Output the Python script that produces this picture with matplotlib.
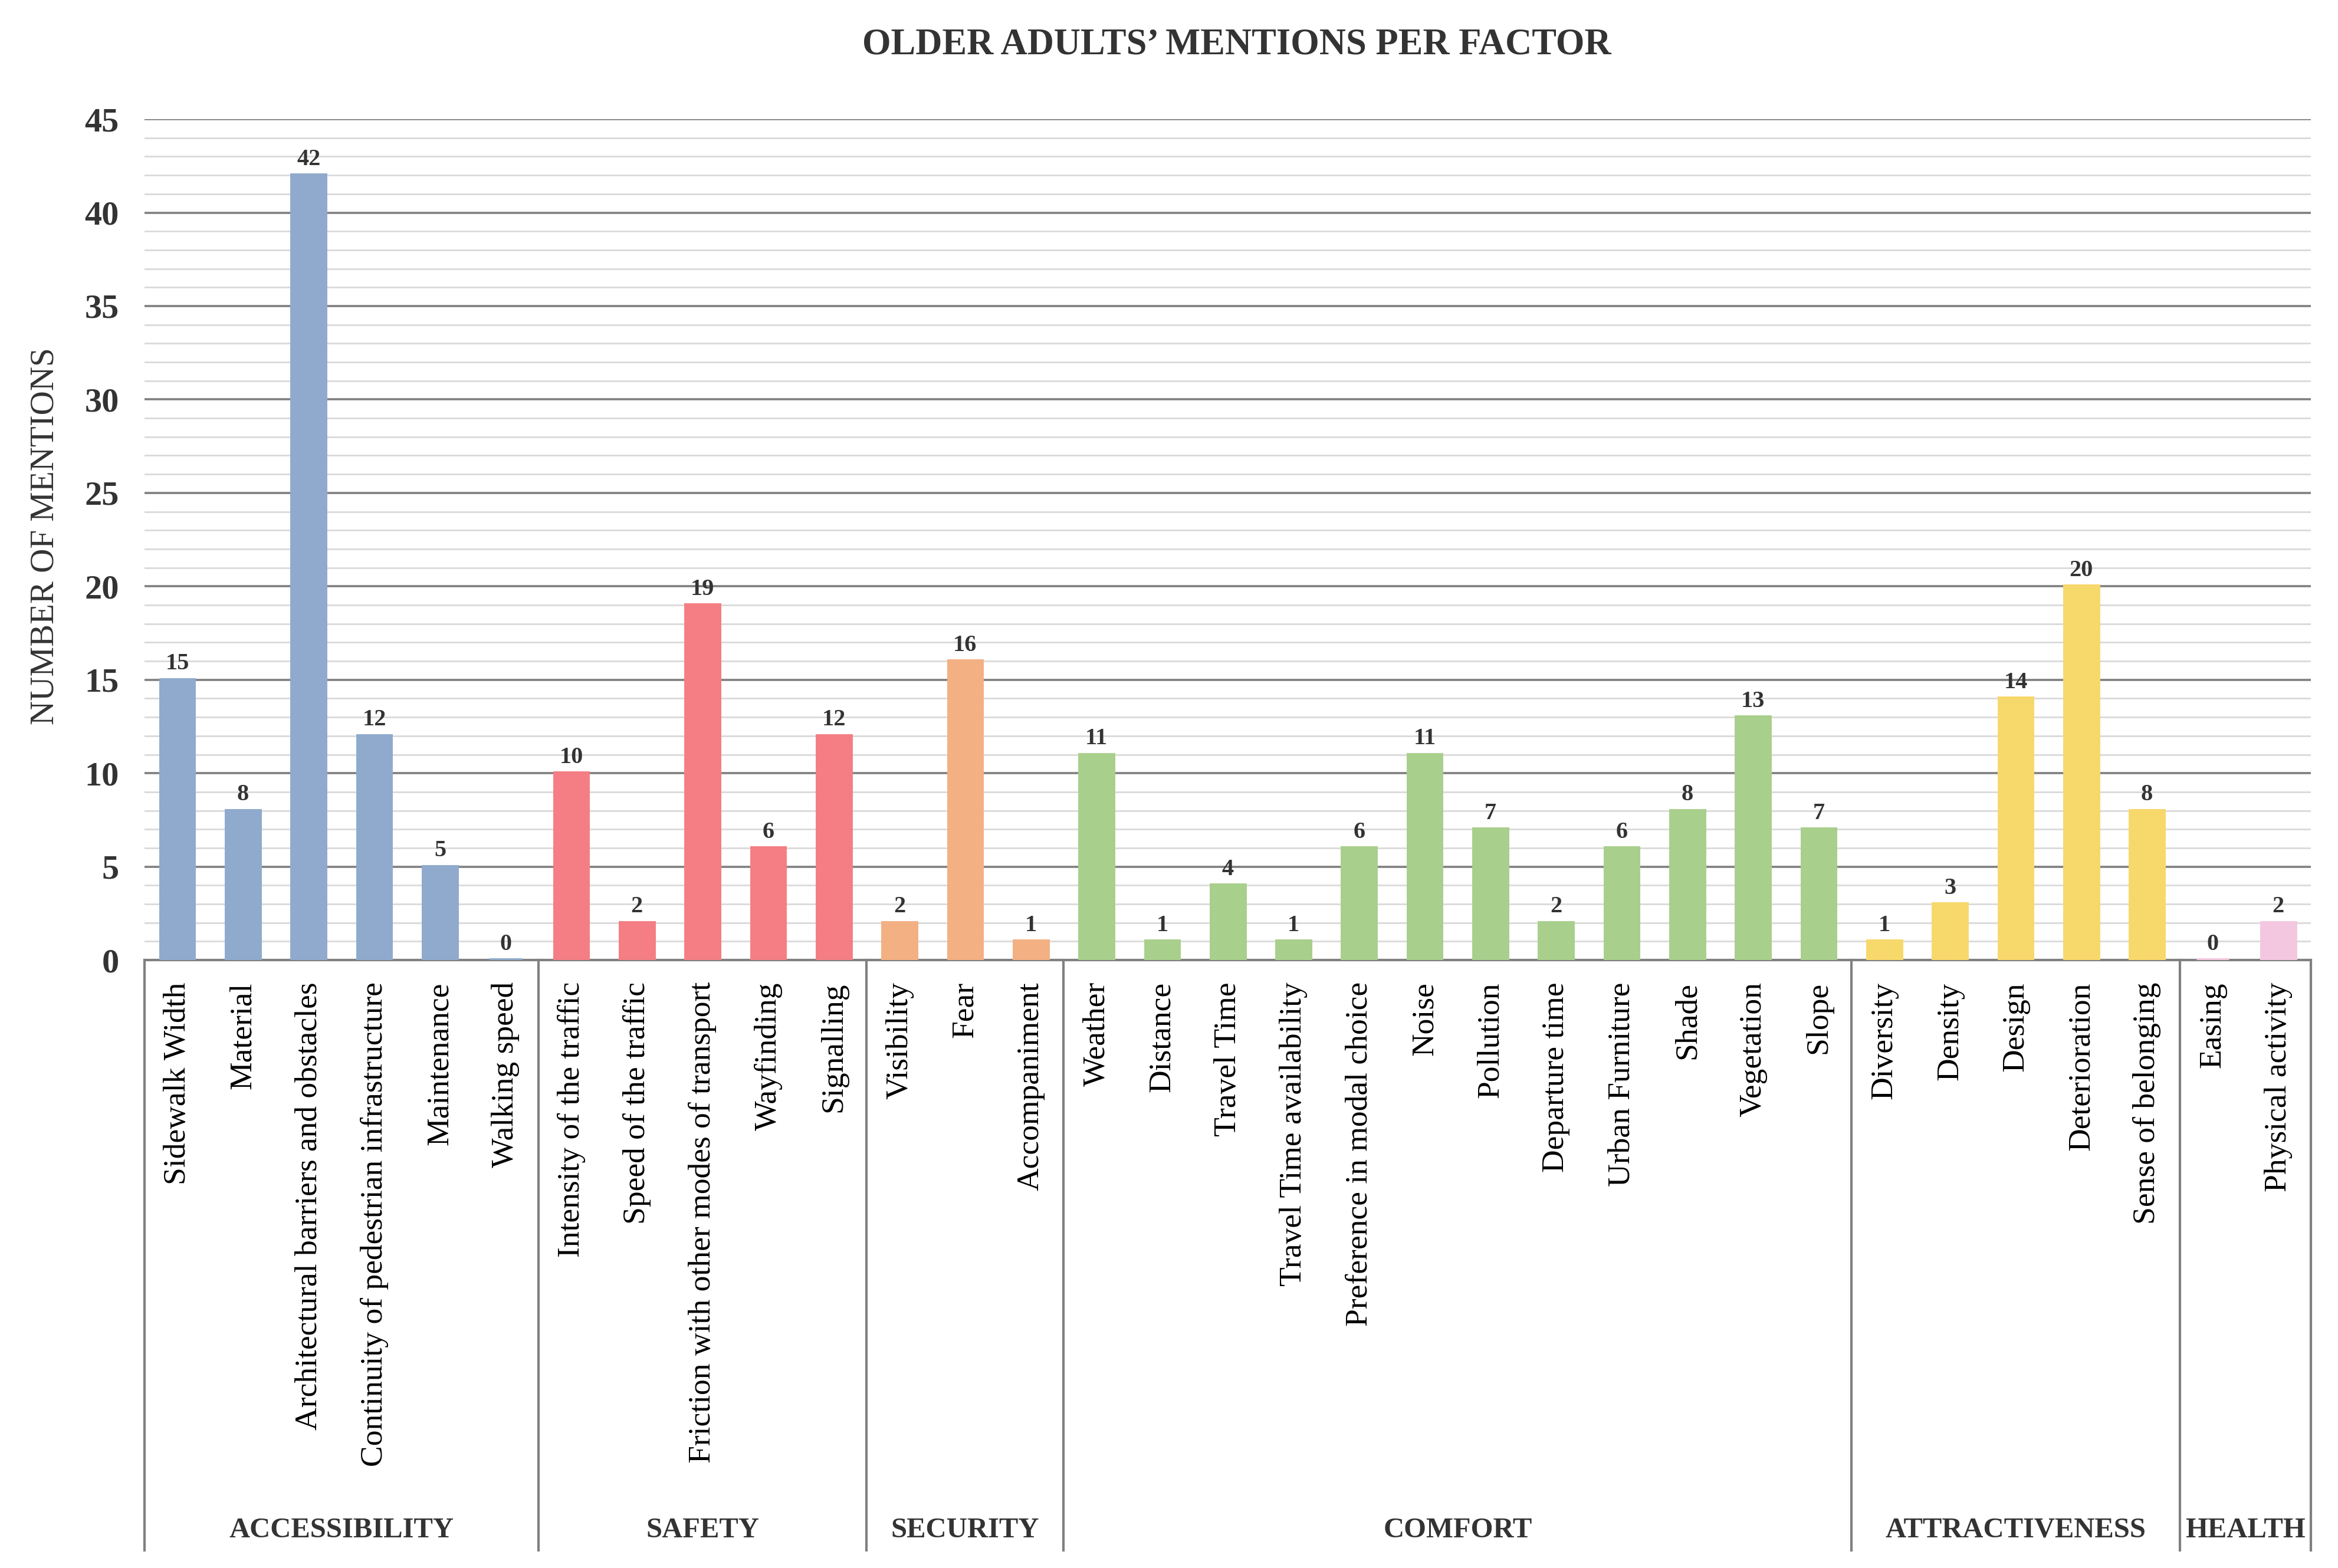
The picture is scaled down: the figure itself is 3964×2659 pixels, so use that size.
import matplotlib
matplotlib.use("Agg")
import matplotlib.pyplot as plt
from matplotlib.ticker import MultipleLocator
import matplotlib.transforms as mtransforms

# ---- data ----
groups = ["ACCESSIBILITY", "SAFETY", "SECURITY", "COMFORT", "ATTRACTIVENESS", "HEALTH"]
accessibility = ["Sidewalk Width", "Material", "Architectural barriers and obstacles",
                 "Continuity of pedestrian infrastructure", "Maintenance", "Walking speed"]
accessibility_vals = [15, 8, 42, 12, 5, 0]
safety = ["Intensity of the traffic", "Speed of the traffic",
          "Friction with other modes of transport", "Wayfinding", "Signalling"]
safety_vals = [10, 2, 19, 6, 12]
security = ["Visibility", "Fear", "Accompaniment"]
security_vals = [2, 16, 1]
comfort = ["Weather", "Distance", "Travel Time", "Travel Time availability",
           "Preference in modal choice", "Noise", "Pollution", "Departure time",
           "Urban Furniture", "Shade", "Vegetation", "Slope"]
comfort_vals = [11, 1, 4, 1, 6, 11, 7, 2, 6, 8, 13, 7]
attractiveness = ["Diversity", "Density", "Design", "Deterioration", "Sense of belonging"]
attractiveness_vals = [1, 3, 14, 20, 8]
health = ["Easing", "Physical activity"]
health_vals = [0, 2]
group_colors = ["#8FAACC", "#F47E84", "#F3B083", "#A9CF8C", "#F7D86A", "#F4C7E0"]

cat_lists = [accessibility, safety, security, comfort, attractiveness, health]
val_lists = [accessibility_vals, safety_vals, security_vals, comfort_vals,
             attractiveness_vals, health_vals]

serif = ["Liberation Serif", "DejaVu Serif"]
plt.rcParams["font.family"] = serif
txt = "#333333"

fig = plt.figure(figsize=(39.64, 26.59), dpi=100)
ax = fig.add_axes([0.0618, 0.3877, 0.9267, 0.5363])

labels, values, colors, group_bounds = [], [], [], [0]
for cats, vals, col in zip(cat_lists, val_lists, group_colors):
    labels += cats
    values += vals
    colors += [col] * len(cats)
    group_bounds.append(len(labels))

x = list(range(len(labels)))
bars = ax.bar(x, values, width=0.5, color=colors, edgecolor=colors, linewidth=5, zorder=5)

ax.set_xlim(-0.5, len(labels) - 0.5)
ax.set_ylim(0, 45)
ax.yaxis.set_major_locator(MultipleLocator(5))
ax.yaxis.set_minor_locator(MultipleLocator(1))
ax.grid(axis="y", which="major", color="#7F7F7F", linewidth=2.6, zorder=1)
ax.grid(axis="y", which="minor", color="#D9D9D9", linewidth=2.0, zorder=0)
ax.set_axisbelow(True)
for s in ["top", "right", "left"]:
    ax.spines[s].set_visible(False)
ax.spines["bottom"].set_color("#808080")
ax.spines["bottom"].set_linewidth(3)
ax.spines["bottom"].set_zorder(4)
ax.tick_params(axis="y", which="both", length=0, pad=31, labelsize=42, labelcolor=txt)
for t in ax.get_yticklabels():
    t.set_fontweight("bold")
ax.set_xticks([])

# value labels
for xi, v in zip(x, values):
    ax.annotate(str(v), (xi, v), xytext=(0, 6), textcoords="offset points",
                ha="center", va="bottom", fontsize=29, fontweight="bold", color=txt)

trans = mtransforms.blended_transform_factory(ax.transData, ax.transAxes)
# category labels
for xi, lab in zip(x, labels):
    ax.text(xi, -0.026, lab, rotation=90, ha="center", va="top", fontsize=38.5,
            color="black", transform=trans)

# group dividers and labels
for b in group_bounds:
    ax.plot([b - 0.5, b - 0.5], [0, -0.702], transform=trans, color="#808080",
            linewidth=3, clip_on=False, zorder=4)
for gi, g in enumerate(groups):
    cx = (group_bounds[gi] + group_bounds[gi + 1] - 1) / 2
    ax.text(cx, -0.678, g, ha="center", va="center", fontsize=35, fontweight="bold",
            color=txt, transform=trans)

fig.text(0.0192, 0.658, "NUMBER OF MENTIONS", rotation=90, ha="center", va="center",
         fontsize=41, color=txt)
fig.text(0.529, 0.9714, "OLDER ADULTS\u2019 MENTIONS PER FACTOR", ha="center",
         va="center", fontsize=45, fontweight="bold", color=txt)

fig.savefig("out.png", dpi=100, facecolor="white")
